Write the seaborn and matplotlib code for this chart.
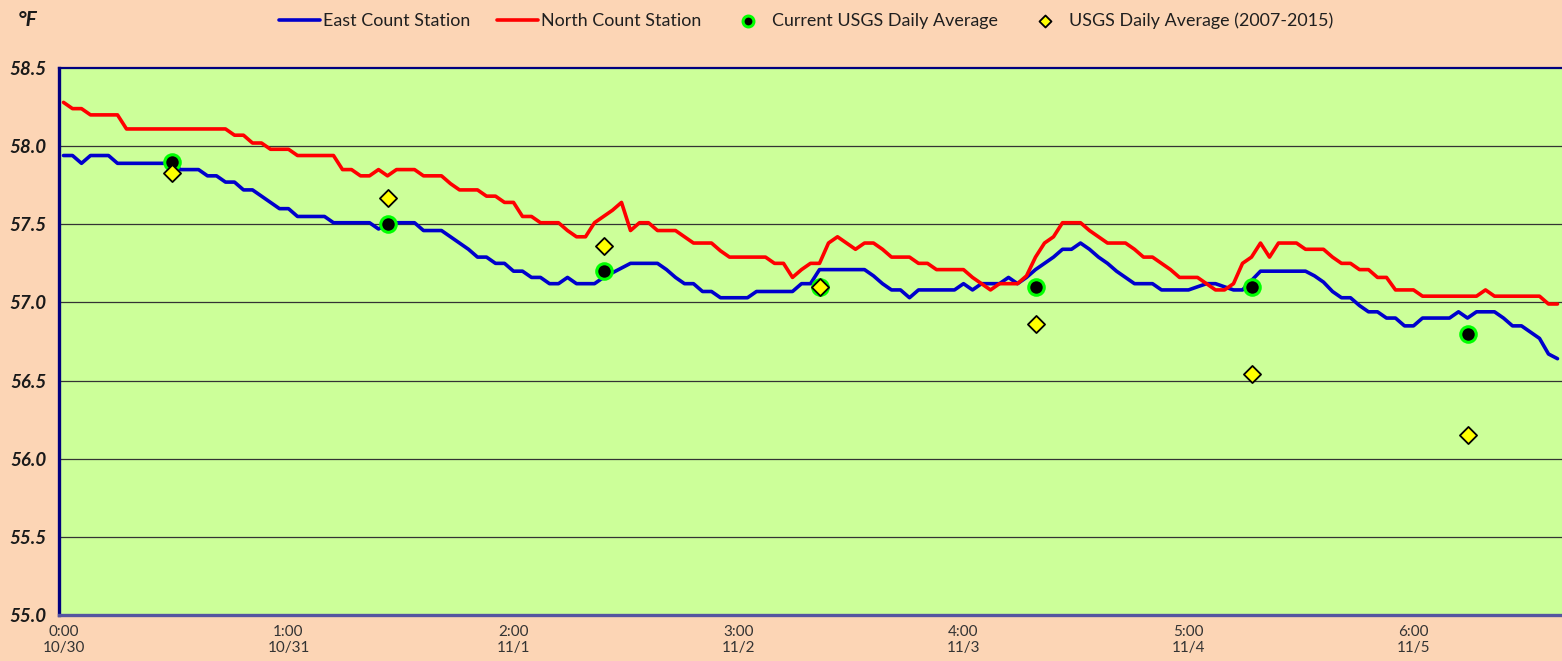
import numpy as np
import pandas as pd
import matplotlib
matplotlib.use("Agg")
import matplotlib.pyplot as plt
import seaborn as sns

# ----------------------- Data (hourly, starting 10/30 0:00) -----------------------
east_station = [
    57.94, 57.94, 57.89, 57.94, 57.94, 57.94, 57.89, 57.89, 57.89, 57.89,
    57.89, 57.89, 57.89, 57.85, 57.85, 57.85, 57.81, 57.81, 57.77, 57.77,
    57.72, 57.72, 57.68, 57.64, 57.60, 57.60, 57.55, 57.55, 57.55, 57.55,
    57.51, 57.51, 57.51, 57.51, 57.51, 57.47, 57.50, 57.51, 57.51, 57.51,
    57.46, 57.46, 57.46, 57.42, 57.38, 57.34, 57.29, 57.29, 57.25, 57.25,
    57.20, 57.20, 57.16, 57.16, 57.12, 57.12, 57.16, 57.12, 57.12, 57.12,
    57.16, 57.19, 57.22, 57.25, 57.25, 57.25, 57.25, 57.21, 57.16, 57.12,
    57.12, 57.07, 57.07, 57.03, 57.03, 57.03, 57.03, 57.07, 57.07, 57.07,
    57.07, 57.07, 57.12, 57.12, 57.21, 57.21, 57.21, 57.21, 57.21, 57.21,
    57.17, 57.12, 57.08, 57.08, 57.03, 57.08, 57.08, 57.08, 57.08, 57.08,
    57.12, 57.08, 57.12, 57.12, 57.12, 57.16, 57.12, 57.16, 57.21, 57.25,
    57.29, 57.34, 57.34, 57.38, 57.34, 57.29, 57.25, 57.20, 57.16, 57.12,
    57.12, 57.12, 57.08, 57.08, 57.08, 57.08, 57.10, 57.12, 57.12, 57.10,
    57.08, 57.08, 57.14, 57.20, 57.20, 57.20, 57.20, 57.20, 57.20, 57.17,
    57.13, 57.07, 57.03, 57.03, 56.98, 56.94, 56.94, 56.90, 56.90, 56.85,
    56.85, 56.90, 56.90, 56.90, 56.90, 56.94, 56.90, 56.94, 56.94, 56.94,
    56.90, 56.85, 56.85, 56.81, 56.77, 56.67, 56.64,
]

north_station = [
    58.28, 58.24, 58.24, 58.20, 58.20, 58.20, 58.20, 58.11, 58.11, 58.11,
    58.11, 58.11, 58.11, 58.11, 58.11, 58.11, 58.11, 58.11, 58.11, 58.07,
    58.07, 58.02, 58.02, 57.98, 57.98, 57.98, 57.94, 57.94, 57.94, 57.94,
    57.94, 57.85, 57.85, 57.81, 57.81, 57.85, 57.81, 57.85, 57.85, 57.85,
    57.81, 57.81, 57.81, 57.76, 57.72, 57.72, 57.72, 57.68, 57.68, 57.64,
    57.64, 57.55, 57.55, 57.51, 57.51, 57.51, 57.46, 57.42, 57.42, 57.51,
    57.55, 57.59, 57.64, 57.46, 57.51, 57.51, 57.46, 57.46, 57.46, 57.42,
    57.38, 57.38, 57.38, 57.33, 57.29, 57.29, 57.29, 57.29, 57.29, 57.25,
    57.25, 57.16, 57.21, 57.25, 57.25, 57.38, 57.42, 57.38, 57.34, 57.38,
    57.38, 57.34, 57.29, 57.29, 57.29, 57.25, 57.25, 57.21, 57.21, 57.21,
    57.21, 57.16, 57.12, 57.08, 57.12, 57.12, 57.12, 57.17, 57.29, 57.38,
    57.42, 57.51, 57.51, 57.51, 57.46, 57.42, 57.38, 57.38, 57.38, 57.34,
    57.29, 57.29, 57.25, 57.21, 57.16, 57.16, 57.16, 57.12, 57.08, 57.08,
    57.12, 57.25, 57.29, 57.38, 57.29, 57.38, 57.38, 57.38, 57.34, 57.34,
    57.34, 57.29, 57.25, 57.25, 57.21, 57.21, 57.16, 57.16, 57.08, 57.08,
    57.08, 57.04, 57.04, 57.04, 57.04, 57.04, 57.04, 57.04, 57.08, 57.04,
    57.04, 57.04, 57.04, 57.04, 57.04, 56.99, 56.99,
]

# daily averages plotted at noon of each day (hour index)
daily_hours = [12, 36, 60, 84, 108, 132, 156]
usgs_current = [57.90, 57.50, 57.20, 57.10, 57.10, 57.10, 56.80]
usgs_hist = [57.83, 57.67, 57.36, 57.10, 56.86, 56.54, 56.15]

tick_hours = [0, 25, 50, 75, 100, 125, 150]
tick_labels = ["0:00\n10/30", "1:00\n10/31", "2:00\n11/1", "3:00\n11/2",
               "4:00\n11/3", "5:00\n11/4", "6:00\n11/5"]

hours = np.arange(len(east_station))
lines_df = pd.DataFrame({"hour": hours, "east": east_station, "north": north_station})
daily_df = pd.DataFrame({"hour": daily_hours, "current": usgs_current, "hist": usgs_hist})

# ----------------------- Style -----------------------
sns.set_theme(style="white")
plt.rcParams["font.family"] = ["Lato", "DejaVu Sans"]

PEACH = "#FCD5B5"
PLOT_GREEN = "#CCFF99"
NAVY = "#000080"

fig = plt.figure(figsize=(15.62, 6.61), dpi=100, facecolor=PEACH)
ax = fig.add_axes([59 / 1562, 46 / 661, 1 - 59 / 1562, (615 - 68) / 661])
ax.set_facecolor(PLOT_GREEN)

sns.lineplot(data=lines_df, x="hour", y="east", ax=ax, color="#0000CC", lw=2.6,
             estimator=None, label="East Count Station", zorder=3)
sns.lineplot(data=lines_df, x="hour", y="north", ax=ax, color="#FF0000", lw=2.6,
             estimator=None, label="North Count Station", zorder=3)
sns.scatterplot(data=daily_df, x="hour", y="current", ax=ax, marker="o", s=125,
                color="black", edgecolor="#00FF00", linewidth=2.2,
                label="Current USGS Daily Average", zorder=4)
sns.scatterplot(data=daily_df, x="hour", y="hist", ax=ax, marker="D", s=76,
                color="#FFFF00", edgecolor="black", linewidth=1.3,
                label="USGS Daily Average (2007-2015)", zorder=5)

ax.set_xlim(-0.5, 166.5)
ax.set_ylim(55.0, 58.5)
ax.set_yticks(np.arange(55.0, 58.51, 0.5))
ax.set_yticklabels([f"{v:.1f}" for v in np.arange(55.0, 58.51, 0.5)],
                   fontweight="bold", fontstyle="italic", fontsize=13.5, color="#1a1a1a")
ax.set_xticks(tick_hours)
ax.set_xticklabels(tick_labels, fontsize=11, color="#333333", linespacing=1.25)
ax.tick_params(axis="both", length=0)
ax.tick_params(axis="y", pad=9)
ax.tick_params(axis="x", pad=7)
ax.set_xlabel("")
ax.set_ylabel("")

for v in np.arange(55.5, 58.01, 0.5):
    ax.axhline(v, color="#333333", lw=0.9, zorder=1)

ax.spines["left"].set_color(NAVY)
ax.spines["left"].set_linewidth(2.4)
ax.spines["top"].set_color(NAVY)
ax.spines["top"].set_linewidth(1.6)
ax.spines["bottom"].set_color("#5555A0")
ax.spines["bottom"].set_linewidth(2.4)
ax.spines["right"].set_visible(False)

fig.text(0.011, 0.970, "°F", fontsize=15, fontweight="bold", fontstyle="italic",
         color="#1a1a1a", va="center")

handles, labels = ax.get_legend_handles_labels()
ax.get_legend().remove()
fig.legend(handles, labels, loc="center", bbox_to_anchor=(0.516, 0.969), ncol=4,
           frameon=False, fontsize=12.9, handlelength=2.3, handletextpad=0.2,
           columnspacing=1.45, markerscale=0.7, labelcolor="#1f1f1f")

fig.savefig("out.png", dpi=100, facecolor=PEACH)
